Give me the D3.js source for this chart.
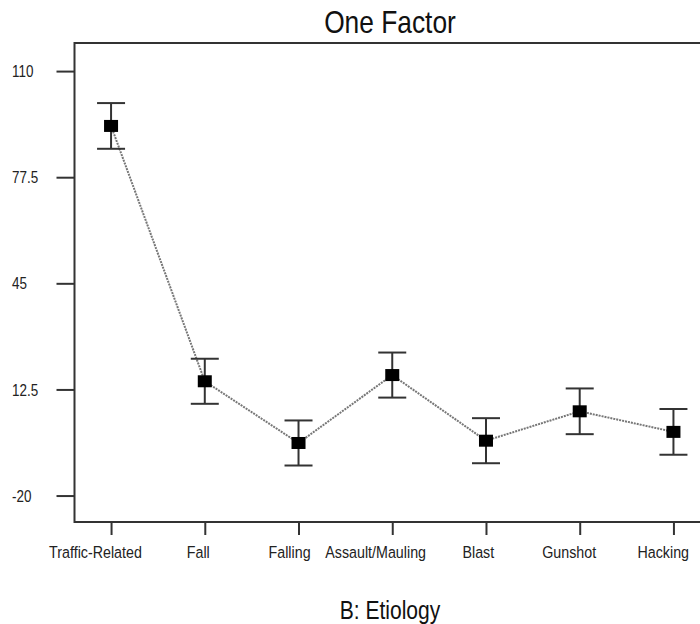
<!DOCTYPE html>
<html>
<head>
<meta charset="utf-8">
<script src="https://cdn.jsdelivr.net/npm/d3@7"></script>
<style>
  body { margin: 0; background: #fff; }
  text { font-family: "Liberation Sans", Arial, sans-serif; fill: #222; }
</style>
</head>
<body>
<svg></svg>
<script>
const CATEGORIES = ['Traffic-Related', 'Fall', 'Falling', 'Assault/Mauling', 'Blast', 'Gunshot', 'Hacking'];
const MEANS = [93.2, 15.0, -3.9, 16.9, -3.2, 5.8, -0.5];
const ERRORS = [7.0, 6.9, 6.9, 6.9, 6.9, 7.0, 7.0];
const Y_TICKS = [110, 77.5, 45, 12.5, -20];

const WIDTH = 700;
const HEIGHT = 624;
const LEFT = 74.5, RIGHT = 710, TOP = 43, BOTTOM = 522;

const svg = d3.select('svg')
              .attr('width', WIDTH)
              .attr('height', HEIGHT);

const x = d3.scalePoint()
            .domain(CATEGORIES)
            .range([LEFT, RIGHT])
            .padding(0.39);

const y = d3.scaleLinear()
            .domain([-28.1, 118.6])
            .range([BOTTOM, TOP]);

// frame (right side runs off the picture)
svg.append('path')
   .attr('d', `M${RIGHT},${TOP}H${LEFT}V${BOTTOM}H${RIGHT}`)
   .attr('fill', 'none')
   .attr('stroke', '#333')
   .attr('stroke-width', 2);

// y axis
const yAxis = svg.append('g')
                 .attr('transform', `translate(${LEFT},0)`)
                 .call(d3.axisLeft(y).tickValues(Y_TICKS).tickSize(18).tickPadding(0)
                         .tickFormat(d => String(d)));
yAxis.select('.domain').remove();
yAxis.selectAll('.tick line').attr('stroke', '#333').attr('stroke-width', 2);
yAxis.selectAll('.tick text')
     .attr('x', 0)
     .attr('dy', '0.35em')
     .attr('text-anchor', 'start')
     .attr('transform', `translate(${12 - LEFT},0) scale(0.84,1)`)
     .style('font-size', '16px')
     .style('fill', '#222');

// x axis
const xAxis = svg.append('g')
                 .attr('transform', `translate(0,${BOTTOM})`)
                 .call(d3.axisBottom(x).tickSize(13).tickPadding(0));
xAxis.select('.domain').remove();
xAxis.selectAll('.tick line').attr('stroke', '#333').attr('stroke-width', 2);
xAxis.selectAll('.tick text')
     .attr('y', 0)
     .attr('dy', 0)
     .style('font-size', '17px')
     .style('fill', '#222')
     .each(function() {
       // labels in the original sit a little left of their ticks, more so for long ones
       const w = this.getComputedTextLength() * 0.84;
       d3.select(this).attr('transform', `translate(${-(4 + 0.13 * w)},35.5) scale(0.84,1)`);
     });

// connecting dotted line
const line = d3.line()
               .x((d, i) => x(CATEGORIES[i]))
               .y(d => y(d));

svg.append('path')
   .datum(MEANS)
   .attr('d', line)
   .attr('fill', 'none')
   .attr('stroke', '#777')
   .attr('stroke-width', 2)
   .attr('stroke-dasharray', '2,1');

// error bars
const bars = svg.append('g')
                .selectAll('g')
                .data(MEANS)
                .enter().append('g')
                .attr('stroke', '#333')
                .attr('stroke-width', 2);

bars.append('line')
    .attr('x1', (d, i) => x(CATEGORIES[i]))
    .attr('x2', (d, i) => x(CATEGORIES[i]))
    .attr('y1', (d, i) => y(d + ERRORS[i]))
    .attr('y2', (d, i) => y(d - ERRORS[i]));

[1, -1].forEach(sign => {
  bars.append('line')
      .attr('x1', (d, i) => x(CATEGORIES[i]) - 14)
      .attr('x2', (d, i) => x(CATEGORIES[i]) + 14)
      .attr('y1', (d, i) => y(d + sign * ERRORS[i]))
      .attr('y2', (d, i) => y(d + sign * ERRORS[i]));
});

// markers
svg.append('g')
   .selectAll('rect')
   .data(MEANS)
   .enter().append('rect')
   .attr('x', (d, i) => x(CATEGORIES[i]) - 7)
   .attr('y', d => y(d) - 6)
   .attr('width', 14)
   .attr('height', 12)
   .attr('fill', '#000');

// title
svg.append('text')
   .text('One Factor')
   .attr('text-anchor', 'middle')
   .attr('transform', 'translate(390,33) scale(0.85,1)')
   .style('font-size', '31px')
   .style('fill', '#111');

// x axis label
svg.append('text')
   .text('B: Etiology')
   .attr('text-anchor', 'middle')
   .attr('transform', 'translate(390,619) scale(0.81,1)')
   .style('font-size', '26px')
   .style('fill', '#111');
</script>
</body>
</html>
